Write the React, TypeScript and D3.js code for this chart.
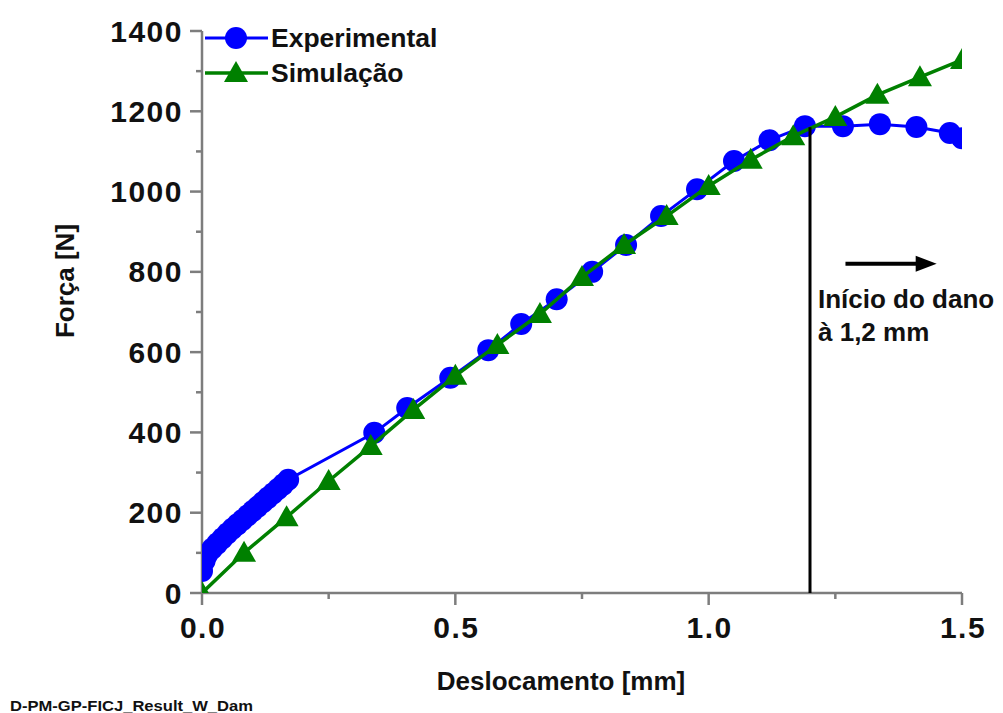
import React from 'react';
import * as d3 from 'd3';

// Experimental series (Deslocamento [mm], Força [N])
const expX = [0, 0.005, 0.01, 0.02, 0.03, 0.04, 0.05, 0.06, 0.07, 0.08, 0.09, 0.10, 0.11, 0.12, 0.13, 0.14, 0.15, 0.16, 0.17,
  0.34, 0.405, 0.49, 0.565, 0.63, 0.70, 0.77, 0.837, 0.906, 0.977, 1.05, 1.12, 1.19, 1.265, 1.338, 1.41, 1.476, 1.5];
const expY = [55, 80, 95, 110, 123, 136, 148, 160, 171, 182, 193, 204, 215, 226, 237, 248, 259, 270, 282,
  399, 461, 536, 605, 670, 732, 800, 867, 939, 1006, 1076, 1128, 1163, 1163, 1168, 1161, 1146, 1133];

// Simulation series
const simX = [0, 0.083, 0.167, 0.25, 0.333, 0.417, 0.5, 0.583, 0.667, 0.75, 0.833, 0.917, 1.0, 1.083, 1.167, 1.25, 1.333, 1.417, 1.5];
const simY = [0, 100, 189, 279, 366, 456, 541, 618, 695, 787, 867, 939, 1014, 1079, 1138, 1186, 1241, 1285, 1328];

const xMajor = [0, 0.5, 1.0, 1.5];
const xMajorLabels = ['0.0', '0.5', '1.0', '1.5'];
const xMinor = [0.25, 0.75, 1.25];
const yMajor = [0, 200, 400, 600, 800, 1000, 1200, 1400];
const yMinor = [100, 300, 500, 700, 900, 1100, 1300];

const seriesNames = ['Experimental', 'Simulação'];
const damageX = 1.2;
const damageTopY = 1160;
const arrowFrom = [1.27, 820];
const arrowTo = [1.45, 820];
const annotationLines = ['Início do dano', 'à 1,2 mm'];
const xTitle = 'Deslocamento [mm]';
const yTitle = 'Força [N]';
const footer = 'D-PM-GP-FICJ_Result_W_Dam';

const FONT = '"Liberation Sans", Arial, Helvetica, sans-serif';
const TXT = '#111';
const AX = '#7d7d7d';
const BLUE = '#0000ff';
const GREEN = '#008000';

export default function App() {
  const W = 1003, H = 713;
  const x = d3.scaleLinear().domain([0, 1.5]).range([202, 962]);
  const y = d3.scaleLinear().domain([0, 1400]).range([593, 31]);
  const line = d3.line<number[]>().x(d => x(d[0])).y(d => y(d[1]));
  const expPts = expX.map((v, i) => [v, expY[i]]);
  const simPts = simX.map((v, i) => [v, simY[i]]);
  const tri = (cx: number, cy: number) => `M${cx},${cy - 12}L${cx + 12},${cy + 9}L${cx - 12},${cy + 9}Z`;

  const ax0 = x(0), ay0 = y(0);
  const ax1 = x(1.5), ayTop = y(1400);

  const a1x = x(arrowFrom[0]), a2x = x(arrowTo[0]), ay = y(arrowFrom[1]);

  return (
    <svg width={W} height={H} style={{ position: 'absolute', left: 0, top: 0, background: '#fff' }}
      fontFamily={FONT} fontWeight="bold">
      <defs>
        <clipPath id="plotclip">
          <rect x={ax0} y={0} width={ax1 - ax0} height={ay0} />
        </clipPath>
      </defs>
      <rect x={0} y={0} width={W} height={H} fill="#fff" />

      {/* axes */}
      <g stroke={AX} strokeWidth={2.5} fill="none">
        <line x1={ax0} y1={ayTop} x2={ax0} y2={ay0} />
        <line x1={ax0} y1={ay0} x2={ax1} y2={ay0} />
        {yMajor.map(v => <line key={'ym' + v} x1={ax0 - 12} x2={ax0} y1={y(v)} y2={y(v)} />)}
        {yMinor.map(v => <line key={'yn' + v} x1={ax0 - 6} x2={ax0} y1={y(v)} y2={y(v)} />)}
        {xMajor.map(v => <line key={'xm' + v} x1={x(v)} x2={x(v)} y1={ay0} y2={ay0 + 12} />)}
        {xMinor.map(v => <line key={'xn' + v} x1={x(v)} x2={x(v)} y1={ay0} y2={ay0 + 6} />)}
      </g>

      {/* tick labels */}
      <g fill={TXT} fontSize={30} style={{ letterSpacing: '1.5px' }}>
        {yMajor.map(v => (
          <text key={'yl' + v} x={183} y={y(v) + 10.5} textAnchor="end">{String(v)}</text>
        ))}
        {xMajor.map((v, i) => (
          <text key={'xl' + v} x={x(v) + 1} y={ay0 + 45} textAnchor="middle">{xMajorLabels[i]}</text>
        ))}
      </g>

      {/* axis titles */}
      <text x={561} y={690} textAnchor="middle" fontSize={26} fill={TXT}>{xTitle}</text>
      <text transform={`translate(74,281) rotate(-90)`} textAnchor="middle" fontSize={26} fill={TXT}>{yTitle}</text>

      {/* data */}
      <g clipPath="url(#plotclip)">
        <path d={line(expPts) || ''} fill="none" stroke={BLUE} strokeWidth={3} />
        {expPts.map((p, i) => <circle key={'e' + i} cx={x(p[0])} cy={y(p[1])} r={11} fill={BLUE} />)}
        <path d={line(simPts) || ''} fill="none" stroke={GREEN} strokeWidth={3.5} />
        {simPts.map((p, i) => <path key={'s' + i} d={tri(x(p[0]), y(p[1]))} fill={GREEN} />)}
      </g>

      {/* damage marker */}
      <line x1={x(damageX)} x2={x(damageX)} y1={y(damageTopY)} y2={ay0} stroke="#000" strokeWidth={3} />
      <line x1={a1x} x2={a2x - 14} y1={ay} y2={ay} stroke="#000" strokeWidth={4} />
      <path d={`M${a2x},${ay}L${a2x - 21},${ay - 8}L${a2x - 21},${ay + 8}Z`} fill="#000" />
      <text x={818} y={308} fontSize={26} fill={TXT}>{annotationLines[0]}</text>
      <text x={818} y={341} fontSize={26} fill={TXT}>{annotationLines[1]}</text>

      {/* legend */}
      <line x1={205} x2={268} y1={38} y2={38} stroke={BLUE} strokeWidth={3} />
      <circle cx={236} cy={38} r={11} fill={BLUE} />
      <text x={271} y={47} fontSize={26.5} fill={TXT}>{seriesNames[0]}</text>
      <line x1={205} x2={268} y1={73} y2={73} stroke={GREEN} strokeWidth={3.5} />
      <path d={tri(236, 73)} fill={GREEN} />
      <text x={271} y={82} fontSize={26.5} fill={TXT}>{seriesNames[1]}</text>

      {/* footer */}
      <text x={10} y={711} fontSize={14} fill={TXT} textLength={243} lengthAdjust="spacingAndGlyphs">{footer}</text>
    </svg>
  );
}
